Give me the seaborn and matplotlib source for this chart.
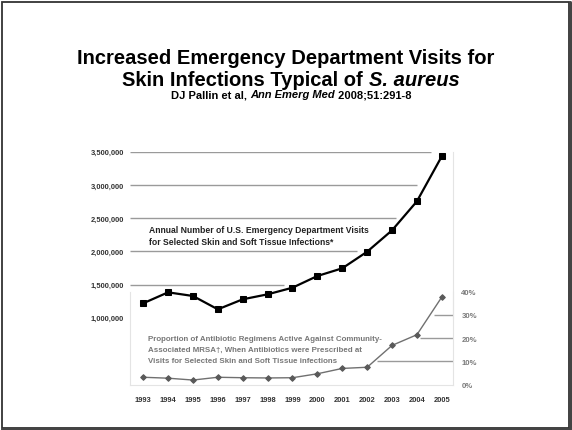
import matplotlib
matplotlib.use("Agg")
import matplotlib.pyplot as plt
import numpy as np
import pandas as pd
import seaborn as sns
from matplotlib.patches import Rectangle

years = [1993, 1994, 1995, 1996, 1997, 1998, 1999, 2000, 2001, 2002, 2003, 2004, 2005]
ed_visits = [1217000, 1382000, 1327000, 1126000, 1277000, 1352000, 1452000,
             1628000, 1744000, 1994000, 2316000, 2753000, 3431000]
mrsa_share = [0.032, 0.028, 0.020, 0.032, 0.030, 0.029, 0.030,
              0.047, 0.070, 0.075, 0.169, 0.215, 0.377]

visit_ticks = [1000000, 1500000, 2000000, 2500000, 3000000, 3500000]
pct_ticks = [0.0, 0.1, 0.2, 0.3, 0.4]
# where the reference's leader lines stop / start (in years)
visit_grid = [1500000, 2000000, 2500000, 3000000, 3500000]
visit_grid_end = [1998.66, 2001.6, 2003.16, 2004.0, 2004.57]
pct_grid = [0.1, 0.2, 0.3]
pct_grid_start = [2002.39, 2004.12, 2004.69]

title1 = "Increased Emergency Department Visits for"
title2 = [("Skin Infections Typical of ", "normal"), ("S. aureus", "italic")]
cite = [("DJ Pallin et al, ", "normal"), ("Ann Emerg Med", "italic"), (" 2008;51:291-8", "normal")]
visits_label = ["Annual Number of U.S. Emergency Department Visits",
                "for Selected Skin and Soft Tissue Infections*"]
mrsa_label = ["Proportion of Antibiotic Regimens Active Against Community-",
              "Associated MRSA\u2020, When Antibiotics were Prescribed at",
              "Visits for Selected Skin and Soft Tissue infections"]

df = pd.DataFrame({"year": years, "visits": ed_visits, "share": mrsa_share})

sns.set_theme(style="white")
plt.rcParams["font.family"] = ["Liberation Sans", "DejaVu Sans"]
narrow = ["Liberation Sans Narrow", "Liberation Sans", "DejaVu Sans"]

W, H = 572, 431
fig = plt.figure(figsize=(W / 100, H / 100), dpi=100)
fig.patch.set_facecolor("white")


def fx(px):
    return px / W


def fy(py):
    return 1 - py / H


xlim = (1992.47, 2005.45)
frame = "#e4e4e4"

# upper panel: ED visits
ax1 = fig.add_axes([fx(130), fy(318.7), fx(323), 166 / H])
ax1.patch.set_alpha(0)
ax1.hlines(visit_grid, xlim[0], visit_grid_end, color="#9a9a9a", lw=1.0, zorder=1)
sns.lineplot(data=df, x="year", y="visits", ax=ax1, color="black", lw=1.6,
             marker="s", markersize=5, markeredgecolor="black", zorder=3, clip_on=False)
ax1.set_xlim(*xlim)
ax1.set_ylim(visit_ticks[0], visit_ticks[-1])
ax1.set_yticks(visit_ticks)
ax1.set_yticklabels([f"{v:,}" for v in visit_ticks])
ax1.set_xticks([])
ax1.tick_params(axis="y", length=0, pad=4.5, labelsize=5.4, labelcolor="#333333")
for lab in ax1.get_yticklabels():
    lab.set_fontweight("bold")
for s in ["left", "top", "bottom"]:
    ax1.spines[s].set_visible(False)
ax1.spines["right"].set_color(frame)
ax1.spines["right"].set_linewidth(0.8)
ax1.set_xlabel("")
ax1.set_ylabel("")

# lower panel: MRSA-active share
ax2 = fig.add_axes([fx(130), fy(385.7), fx(323), 93 / H])
ax2.patch.set_alpha(0)
ax2.hlines(pct_grid, pct_grid_start, xlim[1], color="#9a9a9a", lw=1.0, zorder=1)
sns.lineplot(data=df, x="year", y="share", ax=ax2, color="#707070", lw=1.0,
             marker="D", markersize=2.9, markeredgecolor="#5a5a5a",
             markerfacecolor="#5a5a5a", zorder=3, clip_on=False)
ax2.set_xlim(*xlim)
ax2.set_ylim(pct_ticks[0], pct_ticks[-1])
ax2.yaxis.tick_right()
ax2.set_yticks(pct_ticks)
ax2.set_yticklabels([f"{int(round(p * 100))}%" for p in pct_ticks])
ax2.set_xticks(years)
ax2.set_xticklabels([str(y) for y in years])
ax2.tick_params(axis="y", length=0, pad=6, labelsize=5.6, labelcolor="#7a7a7a")
ax2.tick_params(axis="x", length=0, pad=8, labelsize=5.4, labelcolor="#333333")
for lab in ax2.get_yticklabels() + ax2.get_xticklabels():
    lab.set_fontweight("bold")
ax2.spines["top"].set_visible(False)
for s in ["left", "bottom", "right"]:
    ax2.spines[s].set_color(frame)
    ax2.spines[s].set_linewidth(0.8)
ax2.set_xlabel("")
ax2.set_ylabel("")

# series labels
for i, line in enumerate(visits_label):
    fig.text(fx(149), fy(231 + i * 11.3), line, fontsize=6.2, fontweight="bold",
             color="#222222", va="center", ha="left")
for i, line in enumerate(mrsa_label):
    fig.text(fx(148.5), fy(339.3 + i * 11.2), line, fontsize=5.7, fontweight="bold",
             color="#777777", va="center", ha="left")

# titles
renderer = fig.canvas.get_renderer()


def centered_parts(parts, y, size, cx):
    texts = [fig.text(0, y, s, fontsize=size, fontweight="bold", fontstyle=st,
                      family=narrow, color="black", va="baseline", ha="left")
             for s, st in parts]
    widths = [t.get_window_extent(renderer).width for t in texts]
    x = cx - sum(widths) / 2
    for t, w in zip(texts, widths):
        t.set_x(fx(x))
        x += w


centered_parts([(title1, "normal")], fy(64), 14.5, 286)
centered_parts(title2, fy(86), 14.5, 291)
centered_parts(cite, fy(98), 8, 291)

# slide border
fig.patches.append(Rectangle((fx(2), fy(429)), fx(567), 426 / H, transform=fig.transFigure,
                             fill=False, edgecolor="#333333", lw=1.3))
fig.add_artist(plt.Line2D([fx(570), fx(570)], [fy(429), fy(3)], transform=fig.transFigure,
                          color="#444444", lw=2.2))
fig.add_artist(plt.Line2D([fx(2), fx(570)], [fy(429.5), fy(429.5)], transform=fig.transFigure,
                          color="#444444", lw=2.2))

fig.savefig("out.png", dpi=100)
